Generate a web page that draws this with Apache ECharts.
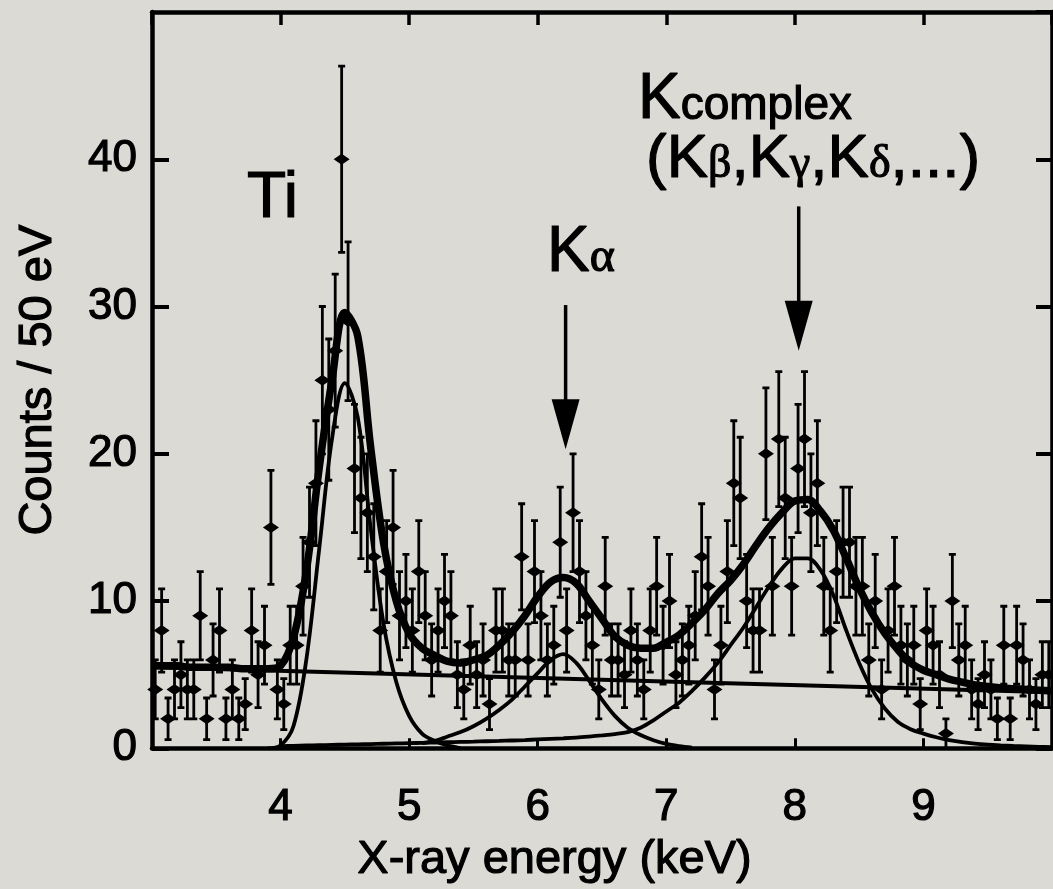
<!DOCTYPE html>
<html>
<head>
<meta charset="utf-8">
<script src="https://cdn.jsdelivr.net/npm/echarts@6/dist/echarts.min.js"></script>
<style>
  html, body { margin: 0; background: #dbdad5; }
  #chart { width: 1053px; height: 889px; }
</style>
</head>
<body>
<div id="chart"></div>
<script>
// counts per 50 eV bin, first bin centred at 3.025 keV
const binFirst = 3.025;
const binWidth = 0.05;
const counts = [
  4, 8, 2, 4, 5, 4, 4, 9, 2, 6, 8, 2, 4, 2, 3, 8, 5, 7, 15, 4,
  3, 7, 7, 11, 14, 18, 25, 23, 27, 40, 29, 19, 17, 16, 13, 8, 12, 15, 9, 10,
  8, 12, 9, 6, 8, 10, 9, 5, 4, 7, 5, 6, 3, 8, 8, 6, 6, 13, 6, 12,
  9, 6, 7, 14, 8, 16, 12, 9, 7, 4, 11, 6, 6, 5, 8, 6, 4, 8, 11, 7,
  10, 5, 6, 7, 9, 13, 11, 4, 7, 12, 18, 17, 10, 8, 8, 20, 11, 21, 17, 11,
  19, 21, 16, 18, 11, 8, 12, 14, 14, 11, 11, 6, 10, 4, 8, 11, 7, 6, 7, 3,
  8, 7, 5, 1, 10, 6, 7, 4, 3, 5, 4, 2, 7, 2, 7, 6, 4, 3, 5, 5
];

// fit curves read every 0.1 keV
const fitStep = 0.1;
const totalStart = 3.0;
const totalFit = [
  5.6, 5.6, 5.6, 5.5, 5.5, 5.5, 5.5, 5.4, 5.4, 5.4,
  5.6, 7.5, 12.0, 19.0, 25.0, 29.6, 28.0, 20.5, 14.0, 10.0,
  7.8, 6.8, 6.3, 5.9, 5.8, 6.0, 6.3, 7.0, 7.9, 9.0,
  10.3, 11.3, 11.6, 11.2, 10.0, 8.8, 7.6, 7.0, 6.8, 6.8,
  7.2, 7.7, 8.5, 9.4, 10.5, 11.4, 12.5, 13.8, 15.0, 16.0,
  16.8, 16.9, 16.1, 14.8, 12.9, 10.9, 9.2, 7.8, 6.7, 5.8,
  5.3, 5.0, 4.7, 4.5, 4.3, 4.2, 4.1, 4.05, 4.0, 3.95,
  3.9
];
const tiStart = 3.9;
const tiPeak = [0, 0.2, 1.5, 6.0, 13.5, 21.0, 24.8, 22.5, 15.0, 8.5, 4.5, 2.2, 1.0, 0.5, 0.2, 0];
const kaStart = 5.1;
const kaPeak = [
  0.35, 0.5, 0.8, 1.1, 1.5, 2.0, 2.6, 3.3, 4.2, 5.1,
  6.0, 6.4, 5.8, 4.6, 3.3, 2.2, 1.4, 0.9, 0.55, 0.3, 0.15, 0.05
];
const kcStart = 4.0;
const kcPeak = [
  0.15, 0.17, 0.19, 0.21, 0.23, 0.25, 0.27, 0.29, 0.31, 0.33,
  0.35, 0.37, 0.39, 0.41, 0.43, 0.45, 0.48, 0.5, 0.53, 0.56,
  0.6, 0.64, 0.68, 0.73, 0.8, 0.88, 0.97, 1.1, 1.4, 1.9,
  2.5, 3.1, 3.9, 4.8, 5.8, 7.0, 8.2, 9.6, 11.0, 12.2,
  12.9, 12.9, 12.1, 10.4, 8.0, 5.8, 4.0, 2.7, 1.8, 1.3,
  1.0, 0.75, 0.55, 0.42, 0.32, 0.25, 0.2, 0.16, 0.13, 0.1,
  0.08
];
// straight background: value at 3 keV and at 10 keV
const bgEnergy = [3.0, 10.0];
const bgLevel = [5.5, 3.8];

// arrows: energy, top of shaft, tip (counts)
const arrowE = [6.217, 8.03];
const arrowTop = [30.1, 36.8];
const arrowTip = [20.3, 27.0];

const FONT = '"Liberation Sans", Arial, Helvetica, sans-serif';
const SERIF = '"Liberation Serif", "Times New Roman", serif';
const INK = '#000';
// scanned print looks heavier than a plain regular weight
const heavy = { textBorderColor: INK, textBorderWidth: 1.2 };

const curve = (start, vals) => vals.map((v, i) => [+(start + i * fitStep).toFixed(2), v]);
const points = counts.map((n, i) => [+(binFirst + i * binWidth).toFixed(3), n]);
const bars = counts.map((n, i) => [+(binFirst + i * binWidth).toFixed(3), n - Math.sqrt(n), n + Math.sqrt(n)]);

function renderErr(params, api) {
  const x = api.value(0);
  const lo = api.coord([x, Math.max(0, api.value(1))]);
  const hi = api.coord([x, api.value(2)]);
  const cap = 3.5;
  const st = { stroke: INK, lineWidth: 2.8 };
  return {
    type: 'group',
    children: [
      { type: 'line', shape: { x1: lo[0], y1: lo[1], x2: hi[0], y2: hi[1] }, style: st },
      { type: 'line', shape: { x1: lo[0] - cap, y1: lo[1], x2: lo[0] + cap, y2: lo[1] }, style: st },
      { type: 'line', shape: { x1: hi[0] - cap, y1: hi[1], x2: hi[0] + cap, y2: hi[1] }, style: st }
    ]
  };
}

function renderArrow(params, api) {
  const top = api.coord([api.value(0), api.value(1)]);
  const tip = api.coord([api.value(0), api.value(2)]);
  const hw = 14, hl = 50;
  return {
    type: 'group',
    children: [
      { type: 'line', shape: { x1: top[0], y1: top[1], x2: tip[0], y2: tip[1] - hl + 4 },
        style: { stroke: INK, lineWidth: 3.5 } },
      { type: 'polygon', shape: { points: [[tip[0] - hw, tip[1] - hl], [tip[0] + hw, tip[1] - hl], [tip[0], tip[1]]] },
        style: { fill: INK } }
    ]
  };
}

const lineSeries = (data, width, z) => ({
  type: 'line', data, showSymbol: false, symbol: 'none', smooth: 0.35,
  lineStyle: { color: INK, width, opacity: 1 }, z, silent: true
});

const baseX = {
  type: 'value', min: 3, max: 10, interval: 1,
  axisLine: { onZero: false, lineStyle: { color: INK, width: 4.5 } },
  splitLine: { show: false }
};
const baseY = {
  type: 'value', min: 0, max: 50, interval: 10,
  axisLine: { onZero: false, lineStyle: { color: INK, width: 4.5 } },
  splitLine: { show: false }
};

const chart = echarts.init(document.getElementById('chart'), null, { renderer: 'canvas' });
chart.setOption({
  backgroundColor: '#dbdad5',
  animation: false,
  textStyle: { fontFamily: FONT, color: INK },
  grid: { left: 152, right: 1, top: 12, bottom: 134 },
  xAxis: [
    { ...baseX, position: 'bottom',
      axisTick: { inside: true, length: 10, lineStyle: { color: INK, width: 3 } },
      axisLabel: { margin: 38, fontSize: 44, color: INK, fontFamily: FONT, showMinLabel: false, showMaxLabel: false, ...heavy },
      name: 'X-ray energy (keV)', nameLocation: 'middle', nameGap: 79,
      nameTextStyle: { fontSize: 47, color: INK, fontFamily: FONT, padding: [0, 95, 0, 0], ...heavy } },
    { ...baseX, position: 'top',
      axisTick: { inside: true, length: 13, lineStyle: { color: INK, width: 3.5 } },
      axisLabel: { show: false } }
  ],
  yAxis: [
    { ...baseY, position: 'left',
      axisTick: { inside: true, length: 17, lineStyle: { color: INK, width: 4 } },
      axisLabel: { margin: 15, fontSize: 44, color: INK, fontFamily: FONT, showMaxLabel: false, ...heavy },
      name: 'Counts / 50 eV', nameLocation: 'middle', nameGap: 90, nameRotate: 90,
      nameTextStyle: { fontSize: 47, color: INK, fontFamily: FONT, ...heavy } },
    { ...baseY, position: 'right',
      axisTick: { inside: true, length: 16, lineStyle: { color: INK, width: 4 } },
      axisLabel: { show: false } }
  ],
  series: [
    { type: 'custom', name: 'errors', renderItem: renderErr, data: bars, clip: true, z: 3, silent: true },
    { type: 'scatter', name: 'data', data: points, symbol: 'diamond', symbolSize: [16, 11],
      itemStyle: { color: INK, opacity: 1 }, z: 4, silent: true },
    lineSeries(bgEnergy.map((e, i) => [e, bgLevel[i]]), 4, 5),
    lineSeries(curve(tiStart, tiPeak), 3.8, 5),
    lineSeries(curve(kaStart, kaPeak), 3.8, 5),
    lineSeries(curve(kcStart, kcPeak), 3.8, 5),
    lineSeries(curve(totalStart, totalFit), 7.5, 6),
    { type: 'custom', name: 'arrows', renderItem: renderArrow, clip: false, z: 7, silent: true,
      data: arrowE.map((e, i) => [e, arrowTop[i], arrowTip[i]]) }
  ],
  graphic: [
    { type: 'text', x: 247, y: 199, z: 10,
      style: { text: 'Ti', font: '64px ' + FONT, fill: INK, verticalAlign: 'middle', stroke: INK, lineWidth: 1.2 } },
    { type: 'text', x: 547, y: 253, z: 10,
      style: { text: '{K|K}{g|α}', fill: INK, verticalAlign: 'middle', stroke: INK, lineWidth: 1.2,
        rich: { K: { fontSize: 64, fontFamily: FONT, verticalAlign: 'bottom' },
                g: { fontSize: 48, fontFamily: SERIF, verticalAlign: 'bottom', padding: [0, 0, 3, 0] } } } },
    { type: 'text', x: 638, y: 100, z: 10,
      style: { text: '{K|K}{s|complex}', fill: INK, verticalAlign: 'middle', stroke: INK, lineWidth: 1.2,
        rich: { K: { fontSize: 64, fontFamily: FONT, verticalAlign: 'bottom' },
                s: { fontSize: 46, fontFamily: FONT, verticalAlign: 'bottom', padding: [0, 0, 3, 0] } } } },
    { type: 'text', x: 646, y: 160, z: 10,
      style: { text: '{K|(K}{g|β}{K|,K}{g|γ}{K|,K}{g|δ}{K|,...)}', fill: INK, verticalAlign: 'middle', stroke: INK, lineWidth: 1.2,
        rich: { K: { fontSize: 62, fontFamily: FONT, verticalAlign: 'bottom' },
                g: { fontSize: 46, fontFamily: SERIF, verticalAlign: 'bottom', padding: [0, 0, 3, 0] } } } }
  ]
});
</script>
</body>
</html>
